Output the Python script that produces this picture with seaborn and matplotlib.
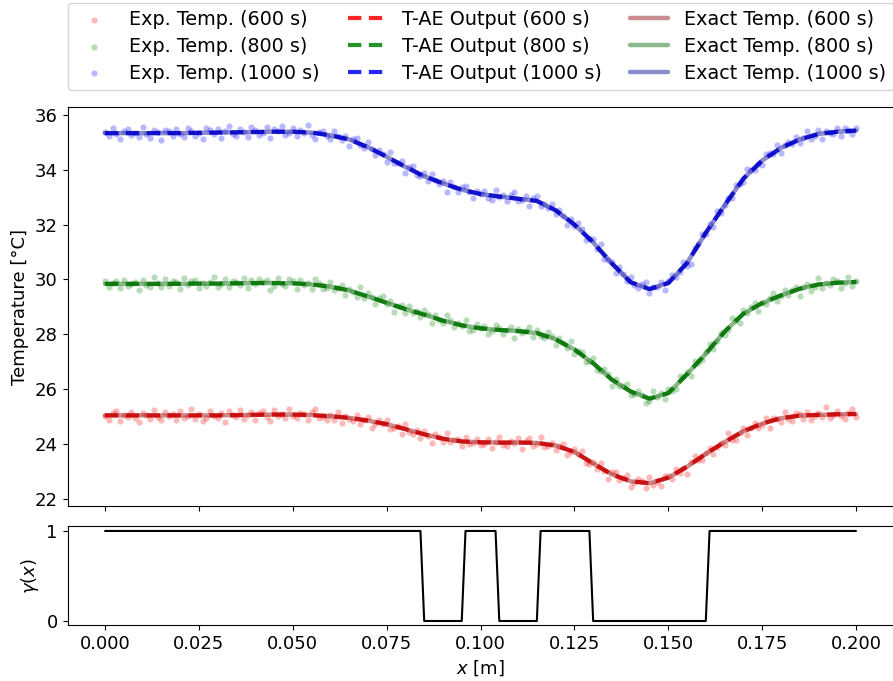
import numpy as np
import matplotlib
matplotlib.use("Agg")
import matplotlib.pyplot as plt
import seaborn as sns

# ---- measured temperatures (one sample every 1 mm) ----
exp_600 = [
    25.03, 24.90, 25.14, 25.21, 24.84, 25.08, 24.99, 25.18, 24.94, 24.81,
    25.13, 25.07, 24.92, 25.25, 24.98, 24.87, 25.16, 25.01, 25.11, 24.89,
    25.20, 24.95, 25.04, 25.28, 24.93, 25.10, 24.85, 24.97, 25.22, 25.02,
    24.94, 25.14, 24.80, 25.20, 25.07, 25.00, 25.25, 24.91, 25.05, 25.17,
    24.89, 25.13, 25.20, 24.99, 24.86, 25.24, 25.03, 25.11, 24.95, 25.29,
    25.01, 24.94, 25.15, 25.09, 24.87, 25.17, 25.29, 24.94, 25.00, 24.87,
    25.07, 24.89, 25.18, 24.77, 25.04, 24.93, 24.85, 25.06, 24.73, 24.89,
    24.98, 24.60, 24.75, 24.87, 24.75, 24.90, 24.55, 24.58, 24.66, 24.39,
    24.74, 24.46, 24.36, 24.50, 24.24, 24.49, 24.31, 24.06, 24.36, 24.26,
    24.07, 24.40, 24.09, 24.14, 24.20, 23.95, 24.25, 23.99, 24.04, 24.19,
    23.98, 24.02, 24.19, 23.88, 24.09, 24.26, 23.98, 23.92, 24.13, 24.04,
    24.21, 23.84, 24.11, 24.23, 23.95, 24.02, 24.28, 23.89, 23.93, 24.06,
    23.79, 23.92, 24.00, 23.61, 23.70, 23.83, 23.63, 23.77, 23.32, 23.29,
    23.36, 23.09, 23.33, 23.02, 22.74, 22.98, 22.98, 22.69, 22.76, 22.87,
    22.46, 22.58, 22.72, 22.65, 22.42, 22.81, 22.53, 22.63, 22.49, 22.86,
    22.84, 22.72, 23.10, 22.94, 23.12, 22.93, 23.36, 23.57, 23.41, 23.44,
    23.69, 23.87, 23.64, 23.89, 24.06, 23.98, 24.40, 24.17, 24.16, 24.42,
    24.58, 24.33, 24.59, 24.79, 24.58, 24.71, 24.97, 24.60, 24.95, 24.91,
    24.82, 25.18, 24.93, 24.84, 25.12, 25.09, 24.93, 25.19, 24.87, 25.03,
    25.14, 24.98, 25.34, 24.94, 25.08, 25.21, 25.01, 24.92, 25.14, 25.29,
    25.00,
]
exp_800 = [
    29.93, 29.73, 29.88, 29.94, 29.68, 29.99, 29.76, 29.84, 29.91, 29.62,
    29.97, 29.81, 29.74, 30.08, 29.86, 29.71, 30.00, 29.78, 29.95, 29.89,
    29.65, 30.04, 29.80, 29.93, 29.99, 29.68, 29.86, 29.76, 29.91, 30.08,
    29.73, 29.84, 30.02, 29.72, 29.95, 29.89, 29.79, 30.07, 29.69, 29.99,
    29.82, 30.03, 29.91, 29.97, 29.63, 29.76, 30.06, 29.85, 29.78, 30.00,
    29.93, 29.64, 29.97, 29.81, 29.88, 29.66, 30.02, 29.88, 29.65, 29.70,
    29.92, 29.61, 29.70, 29.81, 29.44, 29.66, 29.55, 29.37, 29.72, 29.33,
    29.49, 29.36, 29.12, 29.32, 29.40, 29.10, 29.22, 28.83, 29.02, 29.07,
    28.77, 29.04, 28.78, 28.84, 28.65, 28.90, 28.75, 28.43, 28.72, 28.52,
    28.42, 28.71, 28.54, 28.27, 28.42, 28.30, 28.52, 28.13, 28.17, 28.39,
    28.24, 28.31, 28.01, 28.14, 28.34, 28.24, 28.03, 28.15, 28.28, 27.87,
    28.21, 28.04, 28.12, 28.27, 27.92, 28.17, 27.95, 27.86, 28.07, 27.93,
    27.61, 27.88, 27.67, 27.52, 27.75, 27.27, 27.39, 27.36, 27.00, 27.04,
    27.15, 26.72, 26.68, 26.74, 26.54, 26.11, 26.36, 26.11, 26.11, 26.19,
    25.79, 25.83, 25.94, 25.81, 25.51, 25.57, 25.95, 25.72, 25.86, 25.66,
    26.00, 25.94, 26.02, 26.48, 26.44, 26.64, 26.47, 27.02, 26.96, 27.05,
    27.36, 27.65, 27.45, 27.77, 28.05, 27.97, 28.15, 28.60, 28.53, 28.43,
    28.88, 28.77, 29.00, 29.13, 28.84, 29.15, 29.09, 29.32, 29.51, 29.22,
    29.40, 29.63, 29.43, 29.62, 29.73, 29.41, 29.72, 29.82, 29.58, 29.74,
    30.04, 29.68, 29.86, 29.79, 30.01, 29.96, 29.69, 29.86, 30.08, 29.78,
    29.96,
]
exp_1000 = [
    35.38, 35.21, 35.51, 35.30, 35.13, 35.41, 35.47, 35.26, 35.35, 35.18,
    35.55, 35.28, 35.15, 35.43, 35.36, 35.08, 35.45, 35.39, 35.24, 35.49,
    35.31, 35.19, 35.53, 35.41, 35.23, 35.35, 35.12, 35.50, 35.44, 35.29,
    35.48, 35.16, 35.40, 35.60, 35.28, 35.23, 35.47, 35.36, 35.20, 35.56,
    35.43, 35.27, 35.34, 35.55, 35.15, 35.47, 35.41, 35.59, 35.26, 35.32,
    35.52, 35.21, 35.45, 35.34, 35.61, 35.26, 35.13, 35.36, 35.41, 35.23,
    35.12, 35.40, 35.21, 35.09, 35.23, 34.86, 35.11, 35.14, 34.90, 34.77,
    35.02, 34.74, 34.53, 34.72, 34.58, 34.29, 34.63, 34.24, 34.25, 34.30,
    33.89, 34.09, 34.12, 33.80, 33.78, 33.88, 33.57, 33.85, 33.63, 33.48,
    33.59, 33.19, 33.55, 33.37, 33.20, 33.35, 33.41, 33.17, 32.98, 33.24,
    33.13, 33.24, 32.98, 32.90, 33.25, 32.99, 33.06, 32.86, 33.08, 33.20,
    32.86, 32.90, 33.04, 32.69, 32.95, 33.04, 32.68, 32.76, 32.60, 32.75,
    32.37, 32.52, 32.32, 31.98, 32.22, 31.95, 32.07, 31.82, 31.44, 31.51,
    31.46, 31.11, 31.29, 30.75, 30.72, 30.64, 30.25, 30.46, 30.19, 29.94,
    30.08, 29.79, 29.68, 29.84, 29.92, 29.49, 29.74, 29.71, 29.91, 29.62,
    29.94, 30.16, 30.08, 30.29, 30.64, 30.49, 30.58, 31.14, 31.30, 31.64,
    31.65, 32.02, 31.92, 32.51, 32.43, 32.73, 32.98, 32.95, 33.45, 33.47,
    33.55, 34.03, 33.99, 33.98, 34.21, 34.16, 34.56, 34.59, 34.57, 34.90,
    34.60, 34.90, 35.02, 34.92, 35.20, 34.97, 35.16, 35.42, 35.12, 35.23,
    35.43, 35.10, 35.40, 35.35, 35.28, 35.53, 35.23, 35.50, 35.44, 35.30,
    35.51,
]

# ---- exact temperature profiles (one value every 5 mm) ----
exact_600 = [
    25.05, 25.05, 25.05, 25.05, 25.05, 25.05, 25.05, 25.06, 25.07, 25.08,
    25.08, 25.06, 25.02, 24.96, 24.86, 24.73, 24.55, 24.36, 24.20, 24.10,
    24.07, 24.06, 24.06, 24.05, 23.95, 23.72, 23.30, 22.90, 22.65, 22.58,
    22.78, 23.18, 23.65, 24.08, 24.47, 24.75, 24.95, 25.04, 25.07, 25.09,
    25.10,
]
exact_800 = [
    29.84, 29.84, 29.84, 29.84, 29.84, 29.85, 29.85, 29.86, 29.87, 29.87,
    29.86, 29.82, 29.74, 29.60, 29.38, 29.15, 28.92, 28.72, 28.50, 28.33,
    28.22, 28.16, 28.12, 28.05, 27.82, 27.45, 26.95, 26.35, 25.92, 25.66,
    25.86, 26.55, 27.30, 28.10, 28.75, 29.14, 29.42, 29.66, 29.82, 29.88,
    29.91,
]
exact_1000 = [
    35.33, 35.33, 35.33, 35.33, 35.33, 35.34, 35.35, 35.36, 35.37, 35.38,
    35.38, 35.35, 35.25, 35.10, 34.82, 34.47, 34.10, 33.76, 33.50, 33.27,
    33.11, 33.02, 32.94, 32.86, 32.52, 32.00, 31.35, 30.58, 29.90, 29.65,
    29.87, 30.60, 31.70, 32.70, 33.67, 34.33, 34.79, 35.10, 35.30, 35.38,
    35.42,
]

# ---- T-AE reconstruction (coincides with the exact profiles) ----
tae_600 = list(exact_600)
tae_800 = list(exact_800)
tae_1000 = list(exact_1000)

# ---- identified indicator gamma(x) ----
gamma_x = [0.000, 0.084, 0.085, 0.095, 0.096, 0.104, 0.105,
           0.115, 0.116, 0.129, 0.130, 0.160, 0.161, 0.200]
gamma_y = [1, 1, 0, 0, 1, 1, 0, 0, 1, 1, 0, 0, 1, 1]

times = ["600 s", "800 s", "1000 s"]
exp_series = [exp_600, exp_800, exp_1000]
exact_series = [exact_600, exact_800, exact_1000]
tae_series = [tae_600, tae_800, tae_1000]

point_colors = ["red", "green", "blue"]
tae_colors = ["red", "green", "blue"]
exact_colors = ["darkred", "darkgreen", "darkblue"]

sns.set_theme(style="ticks", rc={
    "axes.edgecolor": "black",
    "axes.linewidth": 0.8,
    "xtick.major.size": 3.5,
    "ytick.major.size": 3.5,
    "xtick.major.width": 0.8,
    "ytick.major.width": 0.8,
    "xtick.color": "black",
    "ytick.color": "black",
    "axes.labelcolor": "black",
    "text.color": "black",
    "xtick.labelsize": 13,
    "ytick.labelsize": 13,
    "axes.labelsize": 13,
    "legend.fontsize": 13.8,
})
plt.rcParams["font.family"] = ["DejaVu Sans"]

fig = plt.figure(figsize=(8.93, 6.81), dpi=100)
ax = fig.add_axes([0.0756, 0.2574, 0.925, 0.585])
axg = fig.add_axes([0.0756, 0.0815, 0.925, 0.1454], sharex=ax)

for t, exp_vals, ex_vals, tae_vals, pc, tc, ec in zip(
        times, exp_series, exact_series, tae_series,
        point_colors, tae_colors, exact_colors):
    x_exp = np.linspace(0.0, 0.2, len(exp_vals))
    x_line = np.linspace(0.0, 0.2, len(ex_vals))
    sns.scatterplot(x=x_exp, y=exp_vals, ax=ax, color=pc, s=20, alpha=0.28,
                    linewidth=0, label=f"Exp. Temp. ({t})", zorder=1)
    # dashed T-AE output underneath, translucent exact profile over it
    sns.lineplot(x=x_line, y=tae_vals, ax=ax, color=tc, lw=3.0, alpha=0.85,
                 linestyle=(0, (3.2, 1.8)), errorbar=None,
                 label=f"T-AE Output ({t})", zorder=2)
    sns.lineplot(x=x_line, y=ex_vals, ax=ax, color=ec, lw=3.2, alpha=0.45,
                 errorbar=None, label=f"Exact Temp. ({t})", zorder=3)

handles, labels = ax.get_legend_handles_labels()
lookup = dict(zip(labels, handles))
order = ([f"Exp. Temp. ({t})" for t in times]
         + [f"T-AE Output ({t})" for t in times]
         + [f"Exact Temp. ({t})" for t in times])
ax.legend([lookup[k] for k in order], order, ncol=3, mode="expand",
          loc="lower left", bbox_to_anchor=(0.0, 1.043, 1.0, 0.2),
          borderaxespad=0.0, scatterpoints=1, labelspacing=0.4)

ax.set_ylabel("Temperature [°C]")
ax.set_yticks([22, 24, 26, 28, 30, 32, 34, 36])
ax.set_xlim(-0.01, 0.21)
ax.tick_params(labelbottom=False)

sns.lineplot(x=gamma_x, y=gamma_y, ax=axg, color="black", lw=1.5,
             errorbar=None, sort=False, estimator=None)
axg.set_ylim(-0.05, 1.05)
axg.set_yticks([0, 1])
axg.set_ylabel(r"$\gamma(x)$")
axg.set_xlabel(r"$x$ [m]")
axg.set_xticks([0.0, 0.025, 0.05, 0.075, 0.1, 0.125, 0.15, 0.175, 0.2])
axg.set_xticklabels([f"{v:.3f}" for v in axg.get_xticks()])

fig.savefig("out.png", dpi=100)
